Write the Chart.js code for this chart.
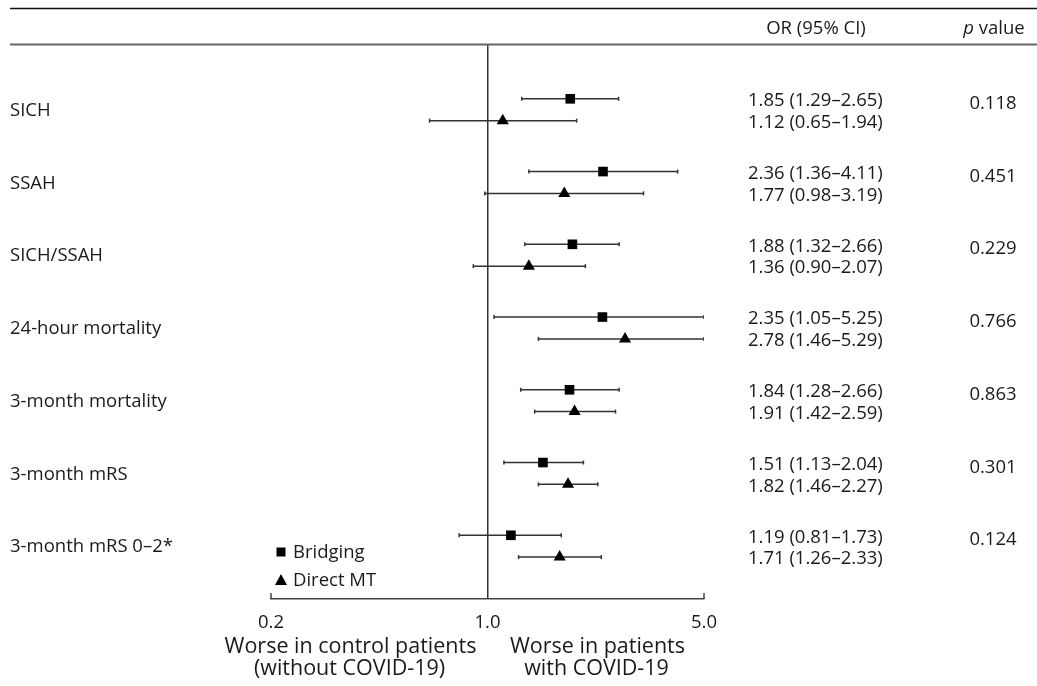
<!DOCTYPE html>
<html>
<head>
<meta charset="utf-8">
<script src="https://cdn.jsdelivr.net/npm/chart.js@4"></script>
<style>
  html, body { margin: 0; padding: 0; background: #fff; }
  #wrap { width: 1037px; height: 686px; }
</style>
</head>
<body>
<div id="wrap"><canvas id="forest"></canvas></div>
<script>
const outcomes = ["SICH", "SSAH", "SICH/SSAH", "24-hour mortality", "3-month mortality", "3-month mRS", "3-month mRS 0\u20132*"];

const bridgingOR = [1.85, 2.36, 1.88, 2.35, 1.84, 1.51, 1.19];
const bridgingLow = [1.29, 1.36, 1.32, 1.05, 1.28, 1.13, 0.81];
const bridgingHigh = [2.65, 4.11, 2.66, 5.25, 2.66, 2.04, 1.73];

const directOR = [1.12, 1.77, 1.36, 2.78, 1.91, 1.82, 1.71];
const directLow = [0.65, 0.98, 0.90, 1.46, 1.42, 1.46, 1.26];
const directHigh = [1.94, 3.19, 2.07, 5.29, 2.59, 2.27, 2.33];

const pValues = ["0.118", "0.451", "0.229", "0.766", "0.863", "0.301", "0.124"];

const tickValues = [0.2, 1, 5];
const tickLabels = ["0.2", "1.0", "5.0"];

const xMin = 0.2, xMax = 5;
const font = "'Open Sans', 'Noto Sans', sans-serif";
const ink = "#1a1a1a";
const fs = 18.5;

// bridging row sits at i, direct MT a little below it
const rowOffset = 0.3;
const clampX = v => Math.min(Math.max(v, xMin), xMax);
const fmt = v => v.toFixed(2);

function ciDatasets(low, high, dy) {
    return low.map((lo, i) => ({
        type: "scatter",
        showLine: true,
        data: [{ x: clampX(lo), y: i + dy }, { x: clampX(high[i]), y: i + dy }],
        borderColor: "#333",
        borderWidth: 1.5,
        pointStyle: "line",
        rotation: 90,
        pointRadius: 2,
        pointBorderColor: "#333",
        pointBorderWidth: 1.5,
        pointHoverRadius: 0
    }));
}

const datasets = [
    {
        label: "Bridging",
        data: bridgingOR.map((v, i) => ({ x: v, y: i })),
        pointStyle: "rect",
        pointRadius: 6.8,
        backgroundColor: "#000",
        borderColor: "#000",
        borderWidth: 0
    },
    {
        label: "Direct MT",
        data: directOR.map((v, i) => ({ x: v, y: i + rowOffset })),
        pointStyle: "triangle",
        pointRadius: 7,
        backgroundColor: "#000",
        borderColor: "#000",
        borderWidth: 0
    },
    ...ciDatasets(bridgingLow, bridgingHigh, 0),
    ...ciDatasets(directLow, directHigh, rowOffset)
];

function text(ctx, str, x, y, align, size, style) {
    ctx.font = (style || "") + " " + size + "px " + font;
    ctx.textAlign = align;
    ctx.textBaseline = "middle";
    ctx.fillStyle = ink;
    ctx.fillText(str, x, y);
}

const tablePlugin = {
    id: "table",
    afterDraw(chart) {
        const ctx = chart.ctx;
        const xs = chart.scales.x;
        const ys = chart.scales.y;
        const area = chart.chartArea;
        ctx.save();

        // header rules
        ctx.strokeStyle = "#111";
        ctx.lineWidth = 1.5;
        ctx.beginPath();
        ctx.moveTo(10, 8.5);
        ctx.lineTo(1037, 8.5);
        ctx.stroke();
        ctx.strokeStyle = "#666";
        ctx.lineWidth = 2;
        ctx.beginPath();
        ctx.moveTo(10, 44.5);
        ctx.lineTo(1037, 44.5);
        ctx.stroke();

        // header text
        text(ctx, "OR (95% CI)", 816, 29, "center", fs);
        ctx.font = "italic " + fs + "px " + font;
        const pw = ctx.measureText("p").width;
        ctx.font = fs + "px " + font;
        const vw = ctx.measureText(" value").width;
        const px = 994 - (pw + vw) / 2;
        text(ctx, "p", px, 29, "left", fs, "italic");
        text(ctx, " value", px + pw, 29, "left", fs);

        // rows
        outcomes.forEach((name, i) => {
            text(ctx, name, 10, ys.getPixelForValue(i + rowOffset / 2) + 1, "left", fs);
            text(ctx, fmt(bridgingOR[i]) + " (" + fmt(bridgingLow[i]) + "\u2013" + fmt(bridgingHigh[i]) + ")",
                748, ys.getPixelForValue(i) + 2, "left", fs);
            text(ctx, fmt(directOR[i]) + " (" + fmt(directLow[i]) + "\u2013" + fmt(directHigh[i]) + ")",
                748, ys.getPixelForValue(i + rowOffset) + 2, "left", fs);
            text(ctx, pValues[i], 993, ys.getPixelForValue(i + 0.04) + 2, "center", fs);
        });

        // axis end ticks pointing up
        ctx.strokeStyle = "#444";
        ctx.lineWidth = 1.5;
        [xMin, xMax].forEach(v => {
            const x = xs.getPixelForValue(v);
            ctx.beginPath();
            ctx.moveTo(x, area.bottom);
            ctx.lineTo(x, area.bottom - 6);
            ctx.stroke();
        });

        // legend
        ctx.fillStyle = "#000";
        ctx.fillRect(276.5, 547.5, 9, 9);
        ctx.beginPath();
        ctx.moveTo(281, 574);
        ctx.lineTo(287, 585);
        ctx.lineTo(275, 585);
        ctx.closePath();
        ctx.fill();
        text(ctx, "Bridging", 293, 553, "left", fs);
        text(ctx, "Direct MT", 293, 581, "left", fs);

        // direction labels under the axis
        const x1 = xs.getPixelForValue(1);
        text(ctx, "Worse in control patients", x1 - 137, 647, "center", 21.5);
        text(ctx, "(without COVID-19)", x1 - 138, 669, "center", 21.5);
        text(ctx, "Worse in patients", x1 + 110, 647, "center", 21.5);
        text(ctx, "with COVID-19", x1 + 109, 669, "center", 21.5);

        ctx.restore();
    }
};

new Chart(document.getElementById("forest"), {
    type: "scatter",
    data: { datasets },
    options: {
        responsive: true,
        maintainAspectRatio: false,
        animation: false,
        layout: { padding: { left: 271, right: 333, top: 45, bottom: 42 } },
        plugins: { legend: { display: false }, tooltip: { enabled: false } },
        scales: {
            x: {
                type: "logarithmic",
                min: xMin,
                max: xMax,
                afterBuildTicks: s => { s.ticks = tickValues.map(v => ({ value: v })); },
                afterFit: s => { s.height = 45; },
                ticks: {
                    callback: (v, i) => tickLabels[i],
                    autoSkip: false,
                    maxRotation: 0,
                    padding: 13,
                    color: ink,
                    font: { family: font, size: fs }
                },
                grid: {
                    drawTicks: false,
                    lineWidth: 1.5,
                    color: c => (c.tick && c.tick.value === 1 ? "#333" : "rgba(0,0,0,0)")
                },
                border: { display: true, color: "#444", width: 1.5 }
            },
            y: {
                type: "linear",
                reverse: true,
                min: -0.74,
                max: 6.876,
                display: false
            }
        }
    },
    plugins: [tablePlugin]
});
</script>
</body>
</html>
